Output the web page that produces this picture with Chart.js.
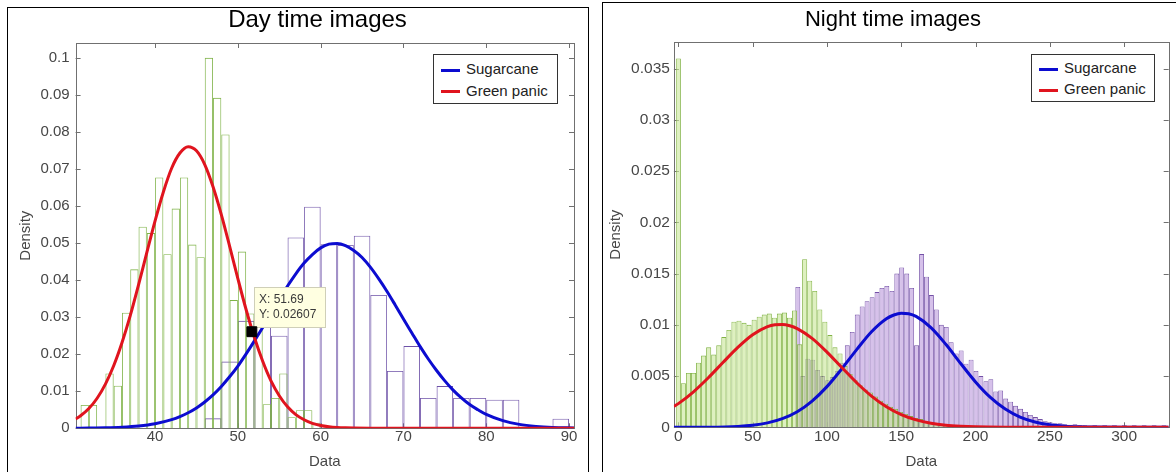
<!DOCTYPE html>
<html>
<head>
<meta charset="utf-8">
<title>Day / night histograms</title>
<script src="https://cdn.jsdelivr.net/npm/chart.js@4.4.1/dist/chart.umd.min.js"></script>
<style>
  html, body { margin: 0; padding: 0; background: #fff; width: 1176px; height: 472px; overflow: hidden; }
  .frame { position: absolute; border: 1px solid #000; }
  canvas { position: absolute; top: 0; }
  .legend { position: absolute; border: 1px solid #333; background: #fff;
            font: 15px 'Liberation Sans', Arial, sans-serif; color: #222; }
  .legend .row { position: absolute; left: 6.5px; height: 18px; line-height: 18px; white-space: nowrap; }
  .legend .row i { display: inline-block; width: 19px; height: 3px; vertical-align: middle; margin-right: 6.5px; }
</style>
</head>
<body>
<div class="frame" style="left:7px;top:7px;width:580px;height:480px"></div>
<div class="frame" style="left:602px;top:2px;width:600px;height:480px"></div>
<canvas id="day" width="635" height="472" style="left:0"></canvas>
<canvas id="night" width="574" height="472" style="left:606px"></canvas>

<div class="legend" style="left:433px;top:54px;width:123px;height:48px">
  <div class="row" style="top:5px"><i style="background:#0c0cd0"></i>Sugarcane</div>
  <div class="row" style="top:26.5px"><i style="background:#e0141e"></i>Green panic</div>
</div>
<div class="legend" style="left:1031px;top:54px;width:122px;height:46px">
  <div class="row" style="top:4.3px"><i style="background:#0c0cd0"></i>Sugarcane</div>
  <div class="row" style="top:25.3px"><i style="background:#e0141e"></i>Green panic</div>
</div>

<script>
// ---- Day time images ----
const dayGreenBins = [31.5, 32.5, 33.5, 34.5, 35.5, 36.5, 37.5, 38.5, 39.5, 40.5, 41.5, 42.5, 43.5, 44.5, 45.5,
  46.5, 47.5, 48.5, 49.5, 50.5, 51.5, 52.5, 53.5, 54.5, 55.5, 56.5, 57.5, 58.5, 59.5];
const dayGreenDensity = [0.0063, 0.0063, null, 0.0148, 0.0115, 0.0312, 0.0429, 0.0544, 0.0527, 0.0677, 0.047, 0.0593,
  0.0677, 0.0496, 0.0462, 0.1, 0.0892, 0.0793, 0.0346, 0.0477, 0.031, 0.028, 0.0065, 0.0082, 0.0148, 0.003,
  0.0049, 0.0049, 0.0015];
const dayPurpleBins = [47, 49, 51, 53, 55, 57, 59, 61, 63, 65, 67, 69, 71, 73, 75, 77, 79, 81, 83, 85, 87, 89];
const dayPurpleDensity = [0.0027, 0.018, 0.029, 0.035, 0.025, 0.0515, 0.0598, 0.0497, 0.0495, 0.052, 0.036, 0.0155,
  0.0222, 0.0082, 0.0114, 0.0082, 0.0082, 0.0077, 0.0077, null, null, 0.0026];
const daySugarX = [30.4, 32, 34, 36, 38, 40, 42, 43, 44, 45, 46, 47, 48, 49, 50, 51, 52, 53, 54, 55, 56, 57, 58, 59,
  60, 61, 62, 63, 64, 65, 66, 67, 68, 69, 70, 71, 72, 73, 74, 75, 76, 77, 78, 79, 80, 82, 84, 86, 88, 90.6];
const daySugarY = [0.00002, 0.00005, 0.00012, 0.00028, 0.0006, 0.00122, 0.00233, 0.00315, 0.0042, 0.0055, 0.0071,
  0.009, 0.0113, 0.0139, 0.0168, 0.0201, 0.0236, 0.0272, 0.031, 0.0348, 0.0384, 0.0417, 0.0446, 0.0469, 0.0487,
  0.0497, 0.0499, 0.0493, 0.048, 0.0461, 0.0435, 0.0404, 0.037, 0.0333, 0.0295, 0.0258, 0.0221, 0.0187, 0.0156,
  0.0128, 0.0103, 0.0082, 0.0064, 0.005, 0.00375, 0.00206, 0.00106, 0.00052, 0.00023, 0.00008];
const dayPanicX = [30.4, 31, 32, 33, 34, 35, 36, 37, 38, 39, 40, 41, 42, 43, 44, 45, 46, 47, 48, 49, 50, 51, 52, 53,
  54, 55, 56, 57, 58, 59, 60, 61, 62, 63, 64, 66, 70, 80, 90.6];
const dayPanicY = [0.00252, 0.00337, 0.00533, 0.00812, 0.01194, 0.0169, 0.0231, 0.0304, 0.0387, 0.0474, 0.056,
  0.0638, 0.0702, 0.0743, 0.076, 0.0749, 0.0712, 0.0652, 0.0577, 0.0492, 0.0404, 0.032, 0.0245, 0.0181, 0.0128,
  0.0088, 0.0058, 0.0037, 0.0023, 0.00135, 0.00077, 0.00043, 0.00023, 0.00012, 0.00006, 0.00001, 0, 0, 0];
const tipX = 51.69, tipY = 0.02607;

// ---- Night time images ----
const nightGreenBins = [0, 3.4, 6.8, 10.2, 13.6, 17, 20.4, 23.8, 27.2, 30.6, 34, 37.4, 40.8, 44.2, 47.6, 51, 54.4,
  57.8, 61.2, 64.6, 68, 71.4, 74.8, 78.2, 81.6, 85, 88.4, 91.8, 95.2, 98.6, 102, 105.4, 108.8, 112.2, 115.6, 119,
  122.4, 125.8, 129.2, 132.6, 136, 139.4, 142.8, 146.2, 149.6, 153, 156.4, 159.8, 163.2, 166.6, 170, 173.4, 176.8,
  180.2, 183.6, 187, 190.4, 193.8, 197.2];
const nightGreenDensity = [0.036, 0.0043, 0.0053, 0.0053, 0.0063, 0.007, 0.0078, 0.0071, 0.008, 0.0088, 0.0095,
  0.0103, 0.0104, 0.0102, 0.01, 0.0105, 0.0108, 0.011, 0.0111, 0.0107, 0.0111, 0.0112, 0.0107, 0.0114, 0.0081,
  0.0164, 0.0143, 0.0133, 0.0115, 0.0103, 0.009, 0.0078, 0.0072, 0.006, 0.0052, 0.0046, 0.0041, 0.0037, 0.0034,
  0.003, 0.0026, 0.0023, 0.002, 0.0018, 0.0015, 0.0013, 0.0011, 0.0009, 0.0008, 0.0006, 0.0005, 0.0004, 0.0003,
  0.00025, 0.0002, 0.00015, 0.0001, 0.0001, 0.00005];
const nightPurpleBins = [80.4, 83.7, 87.1, 90.4, 93.7, 97.0, 100.4, 103.7, 107.0, 110.4, 113.7, 117.0, 120.4, 123.7,
  127.0, 130.4, 133.7, 137.0, 140.3, 143.7, 147.0, 150.3, 153.7, 157.0, 160.3, 163.7, 167.0, 170.3, 173.6, 177.0,
  180.3, 183.6, 187.0, 190.3, 193.6, 197.0, 200.3, 203.6, 207.0, 210.3, 213.6, 216.9, 220.3, 223.6, 226.9, 230.3,
  233.6, 236.9, 240.3, 243.6, 246.9, 250.2, 253.6, 256.9, 260.2, 263.6, 266.9, 270.2, 273.6, 276.9, 280.2, 283.5,
  286.9, 290.2, 293.5, 296.9, 300.2, 303.5, 306.8, 310.2, 313.5, 316.8, 320.2, 323.5, 326.8];
const nightPurpleDensity = [0.0137, 0.005, 0.0067, 0.0066, 0.0056, 0.005, 0.0046, 0.0049, 0.0055, 0.0063,
  0.008, 0.0093, 0.011, 0.0118, 0.0123, 0.0127, 0.0132, 0.0136, 0.0138, 0.0133,
  0.015, 0.0156, 0.015, 0.0136, 0.008, 0.0169, 0.0147, 0.0129, 0.0115, 0.01,
  0.0098, 0.0083, 0.0072, 0.0075, 0.0062, 0.0066, 0.0055, 0.005, 0.0045, 0.0047,
  0.0035, 0.0036, 0.0028, 0.0025, 0.0021, 0.0018, 0.0015, 0.0012, 0.001, 0.0008,
  0.0006, 0.0005, 0.0004, 0.0004, 0.0003, 0.00025, 0.0003, 0.0002, 0.0002, 0.00015,
  0.0002, 0.0001, 0.0002, 0.0001, 0.0002, 0.0001, 0.0002, 0.0001, 0.0002, 0.0001,
  0.0002, 0.0001, 0.0002, 0.0001, 0.0002];
const nightSugarX = [-3, 0, 20, 40, 50, 60, 70, 80, 90, 100, 110, 120, 130, 140, 145, 150, 155, 160, 170, 180, 190,
  200, 210, 220, 230, 240, 250, 260, 270, 280, 300, 330];
const nightSugarY = [0.000001, 0.0000015, 0.000013, 0.000088, 0.0002, 0.00043, 0.00084, 0.00152, 0.00256, 0.00397,
  0.00571, 0.00758, 0.00932, 0.01059, 0.01096, 0.01113, 0.01108, 0.01082, 0.00973, 0.0081, 0.00623, 0.00443,
  0.00292, 0.00178, 0.001, 0.00052, 0.00025, 0.00011, 0.000046, 0.000018, 0.000002, 0];
const nightPanicX = [-3, 0, 10, 20, 30, 40, 50, 60, 65, 70, 75, 80, 90, 100, 110, 120, 130, 140, 150, 160, 170, 180,
  190, 200, 220, 240, 260, 330];
const nightPanicY = [0.00203, 0.00231, 0.00344, 0.00481, 0.00632, 0.0078, 0.00904, 0.00983, 0.01001, 0.01004,
  0.00991, 0.00963, 0.00868, 0.00734, 0.00584, 0.00435, 0.00305, 0.00201, 0.00124, 0.00072, 0.00039, 0.0002,
  0.0001, 0.000044, 0.000007, 0.000001, 0, 0];

const FONT = "'Liberation Sans', Arial, Helvetica, sans-serif";
const BLUE = '#0c0cd0', RED = '#e0141e', TXT = '#474747';

function pts(xs, ys) {
  return xs.map((x, i) => ({ x: x, y: ys[i] }));
}

// MATLAB style box with inward ticks on all four sides
const axisBox = {
  id: 'axisBox',
  beforeDatasetsDraw(chart) {
    const { ctx, chartArea: a } = chart;
    const sx = chart.scales.x, sy = chart.scales.y;
    ctx.save();
    ctx.strokeStyle = '#707070';
    ctx.lineWidth = 1;
    ctx.beginPath();
    sx.ticks.forEach((t, i) => {
      const px = Math.round(sx.getPixelForTick(i)) + 0.5;
      ctx.moveTo(px, a.bottom); ctx.lineTo(px, a.bottom - 5);
      ctx.moveTo(px, a.top); ctx.lineTo(px, a.top + 5);
    });
    sy.ticks.forEach((t, i) => {
      const py = Math.round(sy.getPixelForTick(i)) + 0.5;
      ctx.moveTo(a.left, py); ctx.lineTo(a.left + 5, py);
      ctx.moveTo(a.right, py); ctx.lineTo(a.right - 5, py);
    });
    ctx.stroke();
    ctx.strokeRect(Math.round(a.left) + 0.5, Math.round(a.top) + 0.5,
      Math.round(a.right - a.left), Math.round(a.bottom - a.top));
    ctx.restore();
  }
};

// data tip box, drawn after the red curve and before the black marker
const dataTip = {
  id: 'dataTip',
  afterDatasetDraw(chart, args) {
    if (args.index !== 1) return;
    const { ctx } = chart;
    const px = chart.scales.x.getPixelForValue(tipX);
    const py = chart.scales.y.getPixelForValue(tipY);
    const bx = Math.round(px + 2.5), by = Math.round(py - 44.5);
    ctx.save();
    ctx.fillStyle = '#ffffe1';
    ctx.fillRect(bx, by, 72, 41);
    ctx.strokeStyle = '#cfcfb8';
    ctx.strokeRect(bx + 0.5, by + 0.5, 71, 40);
    ctx.fillStyle = '#3a3a3a';
    ctx.font = '12px ' + FONT;
    ctx.textBaseline = 'middle';
    ctx.fillText('X: ' + tipX, bx + 5, py - 32.4);
    ctx.fillText('Y: ' + tipY, bx + 5, py - 16.7);
    ctx.restore();
  }
};

function curve(label, xs, ys, color, order) {
  return { type: 'line', label: label, data: pts(xs, ys), borderColor: color, borderWidth: 3,
    pointRadius: 0, cubicInterpolationMode: 'monotone', order: order };
}

// each histogram sits on its own x axis so its bar width comes from its own bin spacing
function bars(label, xs, ys, fill, border, edge, order, axis) {
  return { label: label, data: pts(xs, ys), backgroundColor: fill, borderColor: border, borderWidth: edge,
    inflateAmount: 0, grouped: false, barPercentage: 1, categoryPercentage: 1, order: order, xAxisID: axis };
}

function axes(o) {
  const tickFont = { family: FONT, size: o.tickSize };
  return {
    x: { type: 'linear', position: 'bottom', min: o.xMin, max: o.xMax, offset: false,
      grid: { display: false, drawTicks: false }, border: { display: false },
      ticks: { stepSize: o.xStep, includeBounds: false, color: TXT, font: tickFont, padding: o.xPad, maxRotation: 0 },
      title: { display: true, text: 'Data', color: TXT, font: { family: FONT, size: 15 }, padding: { top: 0, bottom: 1 } },
      afterFit: s => { s.height = o.xHeight; } },
    x2: { type: 'linear', display: false, min: o.xMin, max: o.xMax, offset: false },
    y: { type: 'linear', position: 'left', min: 0, max: o.yMax,
      grid: { display: false, drawTicks: false }, border: { display: false },
      ticks: { stepSize: o.yStep, includeBounds: false, color: TXT, font: tickFont, padding: o.yPad,
        callback: v => String(+v.toFixed(4)) },
      title: { display: true, text: 'Density', color: TXT, font: { family: FONT, size: 15 },
        padding: { top: o.yTitlePad, bottom: 0 } },
      afterFit: s => { s.width = o.yWidth; } },
    y2: { type: 'linear', position: 'right', grid: { display: false, drawTicks: false }, border: { display: false },
      ticks: { display: false }, afterFit: s => { s.width = o.rightGap; } }
  };
}

new Chart(document.getElementById('day'), {
  type: 'bar',
  data: {
    datasets: [
      curve('Sugarcane', daySugarX, daySugarY, BLUE, 1),
      curve('Green panic', dayPanicX, dayPanicY, RED, 0),
      { type: 'line', label: 'data tip', data: [{ x: tipX, y: tipY }], showLine: false, pointStyle: 'rect',
        pointRadius: 7, pointBackgroundColor: '#000', pointBorderColor: '#000', order: -1 },
      bars('Green panic histogram', dayGreenBins, dayGreenDensity, 'rgba(0,0,0,0)', '#7fb348', 0.85, 2, 'x'),
      bars('Sugarcane histogram', dayPurpleBins, dayPurpleDensity, 'rgba(0,0,0,0)', '#6e52a8', 0.85, 3, 'x2')
    ]
  },
  options: {
    responsive: false, animation: false, events: [],
    layout: { padding: 0 },
    plugins: {
      legend: { display: false }, tooltip: { enabled: false },
      title: { display: true, text: 'Day time images', color: '#000',
        font: { family: FONT, size: 24, weight: 'normal' }, padding: { top: 5.6, bottom: 8.6 } }
    },
    scales: axes({ xMin: 30.4, xMax: 90.6, xStep: 10, yMax: 0.104, yStep: 0.01, tickSize: 15,
      xPad: 0, xHeight: 43.7, yPad: 6, yWidth: 75.6, yTitlePad: 16.7, rightGap: 61 })
  },
  plugins: [axisBox, dataTip]
});

new Chart(document.getElementById('night'), {
  type: 'bar',
  data: {
    datasets: [
      curve('Sugarcane', nightSugarX, nightSugarY, BLUE, 1),
      curve('Green panic', nightPanicX, nightPanicY, RED, 0),
      bars('Green panic histogram', nightGreenBins, nightGreenDensity, 'rgba(200,230,150,0.6)', '#80b244', 0.85, 2, 'x'),
      bars('Sugarcane histogram', nightPurpleBins, nightPurpleDensity, 'rgba(210,186,232,0.9)', '#7350a6', 0.85, 3, 'x2')
    ]
  },
  options: {
    responsive: false, animation: false, events: [],
    layout: { padding: 0 },
    plugins: {
      legend: { display: false }, tooltip: { enabled: false },
      title: { display: true, text: 'Night time images', color: '#000',
        font: { family: FONT, size: 22, weight: 'normal' }, padding: { top: 6.8, bottom: 8.8 } }
    },
    scales: axes({ xMin: -3, xMax: 330, xStep: 50, yMax: 0.0376, yStep: 0.005, tickSize: 15.5,
      xPad: 0.4, xHeight: 44.7, yPad: 4, yWidth: 67.9, yTitlePad: 0.5, rightGap: 11.3 })
  },
  plugins: [axisBox]
});
</script>
</body>
</html>
